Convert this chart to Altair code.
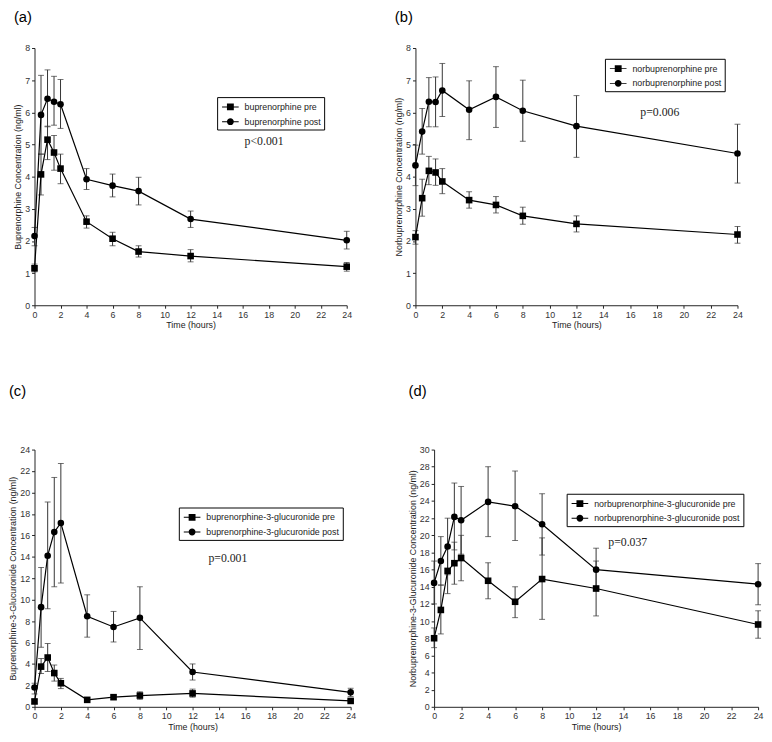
import altair as alt
import pandas as pd

times = [0, 0.5, 1, 1.5, 2, 4, 6, 8, 12, 24]

# (a) buprenorphine
a_names = ["buprenorphine pre", "buprenorphine post"]
a_pre = [1.15, 4.07, 5.15, 4.75, 4.25, 2.6, 2.07, 1.67, 1.53, 1.2]
a_pre_lo = [1.04, 3.43, 4.53, 4.2, 3.78, 2.4, 1.85, 1.5, 1.35, 1.06]
a_pre_hi = [1.28, 4.7, 5.57, 5.28, 4.7, 2.78, 2.27, 1.85, 1.73, 1.33]
a_post = [2.15, 5.92, 6.42, 6.33, 6.25, 3.92, 3.72, 3.55, 2.68, 2.02]
a_post_lo = [1.85, 4.7, 5.55, 5.6, 5.5, 3.6, 3.37, 3.12, 2.42, 1.75]
a_post_hi = [2.42, 7.15, 7.32, 7.12, 7.02, 4.25, 4.08, 3.98, 2.93, 2.3]

# (b) norbuprenorphine
b_names = ["norbuprenorphine pre", "norbuprenorphine post"]
b_pre = [2.12, 3.33, 4.18, 4.13, 3.85, 3.27, 3.12, 2.78, 2.53, 2.2]
b_pre_lo = [1.9, 2.77, 3.75, 3.73, 3.47, 3.02, 2.87, 2.52, 2.28, 1.93]
b_pre_hi = [2.32, 3.92, 4.63, 4.55, 4.25, 3.53, 3.38, 3.05, 2.78, 2.45]
b_post = [4.35, 5.4, 6.33, 6.32, 6.68, 6.08, 6.48, 6.05, 5.57, 4.72]
b_post_lo = [3.72, 4.7, 5.55, 5.55, 5.87, 5.15, 5.53, 5.1, 4.6, 3.8]
b_post_hi = [4.98, 6.12, 7.08, 7.1, 7.52, 6.98, 7.42, 7.0, 6.52, 5.63]

# (c) buprenorphine-3-glucuronide
c_names = ["buprenorphine-3-glucuronide pre", "buprenorphine-3-glucuronide post"]
c_pre = [0.5, 3.75, 4.6, 3.15, 2.2, 0.65, 0.9, 1.05, 1.25, 0.55]
c_pre_lo = [0.3, 3.1, 3.3, 2.4, 1.7, 0.55, 0.7, 0.7, 0.9, 0.45]
c_pre_hi = [0.7, 4.5, 5.9, 3.9, 2.65, 0.75, 1.1, 1.4, 1.65, 0.7]
c_post = [1.8, 9.3, 14.1, 16.3, 17.15, 8.45, 7.45, 8.3, 3.25, 1.35]
c_post_lo = [1.2, 5.55, 9.15, 11.2, 11.55, 6.5, 6.05, 5.35, 2.5, 0.97]
c_post_hi = [2.2, 13.0, 19.1, 21.4, 22.7, 10.45, 8.9, 11.2, 4.0, 1.73]

# (d) norbuprenorphine-3-glucuronide
d_names = ["norbuprenorphine-3-glucuronide pre", "norbuprenorphine-3-glucuronide post"]
d_pre = [8.0, 11.3, 15.85, 16.75, 17.35, 14.7, 12.25, 14.9, 13.8, 9.6]
d_pre_lo = [6.9, 8.5, 13.2, 14.3, 14.7, 12.6, 10.4, 10.2, 10.6, 8.0]
d_pre_hi = [9.2, 14.2, 18.5, 19.2, 20.0, 16.8, 14.0, 19.7, 17.0, 11.2]
d_post = [14.45, 17.0, 18.7, 22.15, 21.75, 23.9, 23.4, 21.3, 16.0, 14.3]
d_post_lo = [12.0, 14.2, 15.4, 18.3, 17.8, 19.85, 19.4, 17.7, 13.5, 11.9]
d_post_hi = [17.0, 19.85, 22.0, 26.1, 25.7, 28.0, 27.5, 24.85, 18.5, 16.7]

x_ticks = list(range(0, 25, 2))

SANS = "Liberation Sans"
SERIF = "Liberation Serif"
# legend symbols: a thin bar (the line) with the marker on it, drawn as filled paths
SQ = "M-0.71,-0.07H1.71V0.07H-0.71ZM0,-0.5H1V0.5H0Z"
CI = "M-0.71,-0.07H1.71V0.07H-0.71ZM1,0A0.5,0.5,0,1,1,0,0A0.5,0.5,0,1,1,1,0Z"


def make_df(names, pre, pre_lo, pre_hi, post, post_lo, post_hi):
    rows = []
    for name, m, lo, hi in [(names[0], pre, pre_lo, pre_hi), (names[1], post, post_lo, post_hi)]:
        for t, a, b, c in zip(times, m, lo, hi):
            rows.append({"t": t, "v": a, "lo": b, "hi": c, "series": name})
    return pd.DataFrame(rows)


def panel(label, ytitle, names, series, ymax, ystep, ptext, px, py, lx, ly, w, h, toff):
    df = make_df(names, *series)
    xs = alt.Scale(domain=[0, 24], nice=False)
    ys = alt.Scale(domain=[0, ymax], nice=False)
    xaxis = alt.Axis(values=x_ticks, title="Time (hours)", grid=False, labelFlush=False, labelOverlap=False)
    yaxis = alt.Axis(values=list(range(0, ymax + 1, ystep)), title=ytitle, grid=False,
                     labelOverlap=False, labelFlush=False)
    X = alt.X("t:Q", scale=xs, axis=xaxis)
    Y = alt.Y("v:Q", scale=ys, axis=yaxis)
    base = alt.Chart(df)
    err = base.mark_errorbar(color="#333", thickness=1, ticks={"size": 6, "color": "#333"}).encode(
        x=X,
        y=alt.Y("lo:Q", scale=ys, axis=yaxis),
        y2="hi:Q",
    )
    line = base.mark_line(color="black", strokeWidth=1.2).encode(x=X, y=Y, detail="series:N")
    pre_pts = base.transform_filter(alt.datum.series == names[0]).mark_point(
        filled=True, opacity=1, color="black", size=45, shape="square").encode(x=X, y=Y)
    post_pts = base.transform_filter(alt.datum.series == names[1]).mark_point(
        filled=True, opacity=1, color="black", size=45, shape="circle").encode(x=X, y=Y)
    legend = alt.Legend(
        title=None, orient="none", legendX=lx, legendY=ly,
        strokeColor="black", fillColor="white", padding=3,
        symbolSize=196, labelOffset=11, rowPadding=3,
        symbolFillColor="black", symbolStrokeWidth=0, symbolOpacity=1,
        labelFont=SANS, labelFontSize=9, labelColor="#222",
    )
    leg = base.transform_filter("false").mark_point(
        filled=True, opacity=1, color="black", size=196).encode(
        x=X, y=Y,
        shape=alt.Shape("series:N", scale=alt.Scale(domain=names, range=[SQ, CI]), legend=legend),
    )
    pdf = pd.DataFrame({"t": [px], "v": [py], "txt": [ptext]})
    ptxt = alt.Chart(pdf).mark_text(font=SERIF, fontSize=12, align="left", baseline="middle", color="#222").encode(
        x=X, y=Y, text="txt:N"
    )
    return alt.layer(err, line, pre_pts, post_pts, leg, ptxt).properties(
        width=w, height=h,
        title=alt.TitleParams(text=label, anchor="start", frame="bounds", fontSize=15, font=SANS,
                              fontWeight="normal", color="black", offset=toff),
    )


pa = panel("(a)", "Buprenorphine Concentration (ng/ml)", a_names,
           (a_pre, a_pre_lo, a_pre_hi, a_post, a_post_lo, a_post_hi),
           8, 1, "p<0.001", 16.15, 5.1, 186, 50, 318, 262, 19)
pb = panel("(b)", "Norbuprenorphine Concentration (ng/ml)", b_names,
           (b_pre, b_pre_lo, b_pre_hi, b_post, b_post_lo, b_post_hi),
           8, 1, "p=0.006", 16.76, 6.0, 193, 11, 328, 262, 19)
pc = panel("(c)", "Buprenorphine-3-Glucuronide Concentration (ng/ml)", c_names,
           (c_pre, c_pre_lo, c_pre_hi, c_post, c_post_lo, c_post_hi),
           24, 2, "p=0.001", 13.2, 13.9, 147, 59, 322, 262, 48)
pd_ = panel("(d)", "Norbuprenorphine-3-Glucuronide Concentration (ng/ml)", d_names,
            (d_pre, d_pre_lo, d_pre_hi, d_post, d_post_lo, d_post_hi),
            30, 2, "p=0.037", 12.9, 19.2, 135, 45, 330, 262, 48)

top = alt.hconcat(pa, pb, spacing=42).resolve_legend(shape="independent").resolve_scale(shape="independent")
bottom = alt.hconcat(pc, pd_, spacing=52).resolve_legend(shape="independent").resolve_scale(shape="independent")

chart = alt.vconcat(top, bottom, spacing=55).resolve_legend(
    shape="independent").resolve_scale(shape="independent").properties(
    padding={"left": 0, "top": -4, "right": 0, "bottom": 0}
).configure_view(stroke=None).configure_axis(
    labelFont=SANS, labelFontSize=9, labelColor="#333",
    titleFont=SANS, titleFontSize=9, titleFontWeight="normal", titleColor="#222",
    domainColor="#222", tickColor="#222", tickSize=3, labelPadding=2, titlePadding=2,
)

chart.save("out.html", embed_options={"renderer": "svg", "actions": False})
